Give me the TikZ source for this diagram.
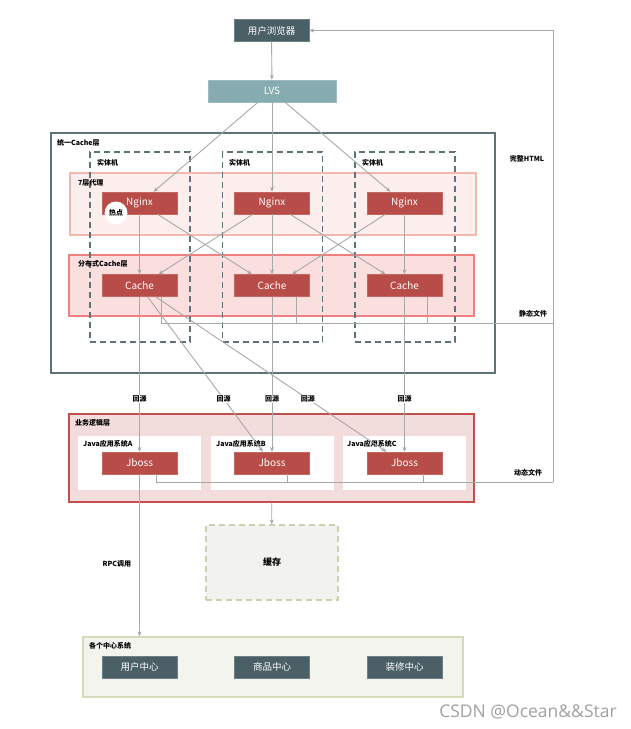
\documentclass[tikz,border=0pt]{standalone}
\usepackage{fontspec}
\setmainfont{Noto Sans CJK SC}
\newfontfamily\markfont{Open Sans}
\usetikzlibrary{arrows.meta,positioning}
\definecolor{slate}{RGB}{74,95,102}
\definecolor{lvsteal}{RGB}{134,171,176}
\definecolor{boxred}{RGB}{184,76,72}
\definecolor{lineg}{RGB}{168,168,168}
\definecolor{unifb}{RGB}{94,115,120}
\definecolor{proxyf}{RGB}{251,238,236}
\definecolor{proxyb}{RGB}{244,183,173}
\definecolor{distf}{RGB}{251,222,222}
\definecolor{distb}{RGB}{240,128,128}
\definecolor{bizf}{RGB}{242,220,220}
\definecolor{bizb}{RGB}{192,80,77}
\definecolor{storef}{RGB}{242,243,238}
\definecolor{storeb}{RGB}{201,210,173}
\definecolor{centf}{RGB}{243,244,238}
\definecolor{centb}{RGB}{213,218,185}
\definecolor{markg}{RGB}{160,160,160}
\begin{document}
\begin{tikzpicture}[
  x=1pt, y=-1pt,
  redbox/.style={rectangle, fill=boxred, draw=boxred!85!white, text=white, minimum width=75pt, minimum height=22pt, inner sep=0pt, font=\fontsize{10}{11}\selectfont},
  slatebox/.style={rectangle, fill=slate, draw=slate!80!white, text=white, minimum width=75pt, minimum height=22pt, inner sep=0pt, font=\fontsize{9.5}{11}\selectfont},
  layer/.style={rectangle, inner sep=0pt, line width=1.2pt},
  hostbox/.style={rectangle, draw=unifb, dashed, dash pattern=on 6pt off 4pt, line width=1.2pt, minimum width=100pt, minimum height=190pt},
  lbl/.style={anchor=west, inner sep=0pt, font=\fontsize{7}{8}\selectfont\bfseries},
  line/.style={draw=lineg, line width=0.9pt},
  arr/.style={line, -{Stealth[length=5pt,width=4pt]}},
  back/.style={fill=white, inner sep=1pt, font=\fontsize{7}{8}\selectfont\bfseries},
  node distance=132.5pt
]
\useasboundingbox (0,0) rectangle (630,729);

% Layers
\node[layer, draw=unifb, minimum width=444pt, minimum height=240pt] (unified) at (273,253) {};
\node[layer, fill=proxyf, draw=proxyb, minimum width=406pt, minimum height=62pt] (proxy) at (273,204) {};
\node[layer, fill=distf, draw=distb, minimum width=405pt, minimum height=61pt] (dist) at (271.5,285.5) {};
\node[layer, fill=bizf, draw=bizb, minimum width=405pt, minimum height=88pt] (biz) at (271.5,458) {};
\node[layer, fill=storef, draw=storeb, dashed, dash pattern=on 6pt off 4pt, minimum width=132pt, minimum height=75pt] (store) at (272,562.5) {};
\node[layer, fill=centf, draw=centb, minimum width=380pt, minimum height=60pt] (centers) at (273,667) {};

% Hosts
\node[hostbox] (host1) at (140,247) {};
\node[hostbox, right of=host1] (host2) {};
\node[hostbox, right of=host2] (host3) {};

% Java systems
\node[rectangle, fill=white, minimum width=123pt, minimum height=54pt] (sysa) at (139.5,463) {};
\node[rectangle, fill=white, minimum width=123pt, minimum height=54pt, right of=sysa] (sysb) {};
\node[rectangle, fill=white, minimum width=123pt, minimum height=54pt, right of=sysb] (sysc) {};

% Layer labels
\node[lbl] (unifiedlbl) at (57,143) {统一Cache层};
\node[lbl] (host1lbl) at (97,163) {实体机};
\node[lbl] (host2lbl) at (229,163) {实体机};
\node[lbl] (host3lbl) at (362,163) {实体机};
\node[lbl] (proxylbl) at (78,183) {7层代理};
\node[lbl] (distlbl) at (78,264) {分布式Cache层};
\node[lbl] (bizlbl) at (75,423) {业务逻辑层};
\node[lbl] (sysalbl) at (83,444) {Java应用系统A};
\node[lbl] (sysblbl) at (216,444) {Java应用系统B};
\node[lbl] (sysclbl) at (347,444) {Java应用系统C};
\node[lbl] (centerslbl) at (89,646) {各个中心系统};
\node[font=\fontsize{9}{10}\selectfont\bfseries] (storelbl) at (store) {缓存};

% Top
\node[slatebox] (browser) at (271.5,30.5) {用户浏览器};
\node[rectangle, fill=lvsteal, draw=lvsteal!80!white, text=white, minimum width=128pt, minimum height=22pt, inner sep=0pt, font=\fontsize{10}{11}\selectfont] (lvs) at (272,91) {LVS};

% Boxes
\node[redbox] (ng1) at (139.5,203) {Nginx};
\node[redbox, right of=ng1] (ng2) {Nginx};
\node[redbox, right of=ng2] (ng3) {Nginx};
\node[redbox, below of=ng1, node distance=82.5pt] (ca1) {Cache};
\node[redbox, right of=ca1] (ca2) {Cache};
\node[redbox, right of=ca2] (ca3) {Cache};
\node[redbox] (jb1) at (139.5,463) {Jboss};
\node[redbox, right of=jb1] (jb2) {Jboss};
\node[redbox, right of=jb2] (jb3) {Jboss};
\node[slatebox] (uc) at (139.5,667) {用户中心};
\node[slatebox, right of=uc] (gc) {商品中心};
\node[slatebox, right of=gc] (dc) {装修中心};

\node[circle, fill=white, minimum size=23pt, inner sep=0pt, font=\fontsize{7}{8}\selectfont\bfseries] (hot) at (116,213) {热点};

% Arrows
\draw[arr] (browser) -- (lvs);
\draw[arr] ([xshift=-14pt]lvs.south) -- ([xshift=14pt]ng1.north);
\draw[arr] (lvs) -- (ng2);
\draw[arr] ([xshift=13pt]lvs.south) -- ([xshift=-14pt]ng3.north);

\draw[arr] (ng1) -- (ca1);
\draw[arr] ([xshift=18pt]ng1.south) -- ([xshift=-20pt]ca2.north);
\draw[arr] ([xshift=-19pt]ng2.south) -- ([xshift=19pt]ca1.north);
\draw[arr] (ng2) -- (ca2);
\draw[arr] ([xshift=18pt]ng2.south) -- ([xshift=-19pt]ca3.north);
\draw[arr] ([xshift=-19pt]ng3.south) -- ([xshift=20pt]ca2.north);
\draw[arr] (ng3) -- (ca3);

\draw[arr] (ca1) -- node[back, pos=0.66] {回源} (jb1);
\draw[arr] ([xshift=8pt]ca1.south) -- node[back, pos=0.66] {回源} ([xshift=-9pt]jb2.north);
\draw[arr] ([xshift=16pt]ca1.south) -- node[back, pos=0.66] {回源} ([xshift=-18pt]jb3.north);
\draw[arr] (ca2) -- node[back, pos=0.66] {回源} (jb2);
\draw[arr] (ca3) -- node[back, pos=0.66] {回源} (jb3);

% Static and dynamic files back to the browser
\coordinate (statR) at (553,323);
\coordinate (dynR) at (553,482);
\draw[line] ([xshift=22pt]ca1.south) |- (statR);
\draw[line] ([xshift=24pt]ca2.south) -- ++(0,26);
\draw[line] ([xshift=23pt]ca3.south) -- ++(0,26);
\draw[line] ([xshift=16.5pt]jb1.south) |- (dynR);
\draw[line] ([xshift=15pt]jb2.south) -- ++(0,8);
\draw[line] ([xshift=19pt]jb3.south) -- ++(0,8);
\draw[arr] (dynR) |- (browser.east);
\node[back] (statlbl) at (533,314) {静态文件};
\node[back] (dynlbl) at (528,473) {动态文件};
\node[back] (htmllbl) at (527,159) {完整HTML};

\draw[arr] (biz) -- (store);
\draw[arr] (jb1) -- node[pos=0.55, left=8pt, inner sep=0pt, font=\fontsize{7}{8}\selectfont\bfseries] {RPC调用} (jb1.south |- centers.north);

\node[text=markg, font=\markfont\fontsize{17.5}{20}\selectfont] (mark) at (528,712) {CSDN @Ocean\&\&Star};
\end{tikzpicture}
\end{document}
